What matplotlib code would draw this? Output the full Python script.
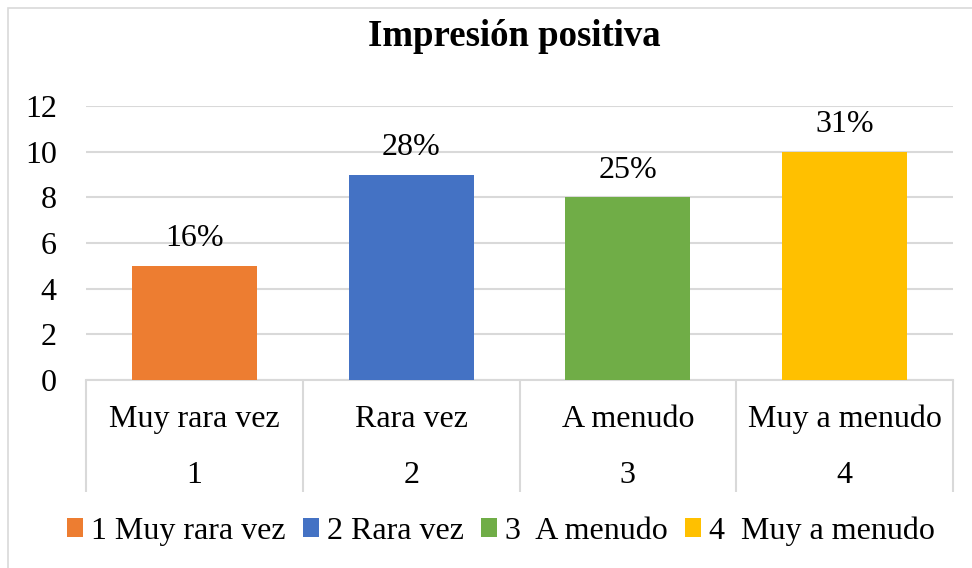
import numpy as np
import matplotlib.pyplot as plt
from matplotlib.patches import Rectangle

# Datos del gráfico
categorias = ["Muy rara vez", "Rara vez", "A menudo", "Muy a menudo"]
codigos = ["1", "2", "3", "4"]
valores = [5, 9, 8, 10]
leyenda = ["1 Muy rara vez", "2 Rara vez", "3  A menudo", "4  Muy a menudo"]
colores = ["#ED7D31", "#4472C4", "#70AD47", "#FFC000"]
y_ticks = [0, 2, 4, 6, 8, 10, 12]

gris = "#D9D9D9"
plt.rcParams['font.family'] = ['Liberation Serif', 'DejaVu Serif']

W, H = 972, 568
fig = plt.figure(figsize=(W / 100, H / 100), dpi=100)
ax = fig.add_axes([86 / W, 1 - 380 / H, (953 - 86) / W, (380 - 106) / H])

x = np.arange(len(valores))
total = sum(valores)
barras = []
for i, v in enumerate(valores):
    b = ax.bar(x[i], v, width=0.576, color=colores[i], label=leyenda[i], zorder=3)
    barras.append(b)
    ax.annotate(f"{round(100 * v / total)}%", (x[i], v), xytext=(0, 14),
                textcoords='offset points', ha='center', va='baseline', fontsize=23)

ax.set_xlim(-0.5, len(valores) - 0.5)
ax.set_ylim(0, 12)
ax.set_yticks(y_ticks)
ax.tick_params(axis='y', length=0, pad=21, labelsize=23)
ax.set_xticks([])
ax.grid(axis='y', color=gris, linewidth=1.5, zorder=0)
for s in ['top', 'right', 'left']:
    ax.spines[s].set_visible(False)
ax.spines['bottom'].set_color(gris)
ax.spines['bottom'].set_linewidth(1.5)

# Eje de categorías en dos niveles
tr = ax.get_xaxis_transform()
ax.vlines(np.arange(-0.5, len(valores)), -112 / 274, 0, transform=tr,
          colors=gris, linewidth=1.5, clip_on=False)
for i in range(len(valores)):
    ax.text(x[i], -47 / 274, categorias[i], transform=tr, ha='center',
            va='baseline', fontsize=23)
    ax.text(x[i], -103 / 274, codigos[i], transform=tr, ha='center',
            va='baseline', fontsize=23)

fig.text(514 / W, 1 - 36 / H, "Impresión positiva", ha='center', va='center',
         fontsize=26.5, fontweight='bold')

fig.legend(handles=[b[0] for b in barras], labels=leyenda, loc='center',
           bbox_to_anchor=(501 / W, 1 - 531 / H), ncol=4, frameon=False,
           fontsize=23, handlelength=0.5, handleheight=0.5, handletextpad=0.25,
           columnspacing=0.55, borderaxespad=0, borderpad=0)

# Borde del gráfico
fig.patches.append(Rectangle((8 / W, -0.1), 1.2, 1 - 8 / H + 0.1,
                             transform=fig.transFigure, fill=False,
                             edgecolor=gris, linewidth=1.2))

fig.savefig("out.png", dpi=100)
